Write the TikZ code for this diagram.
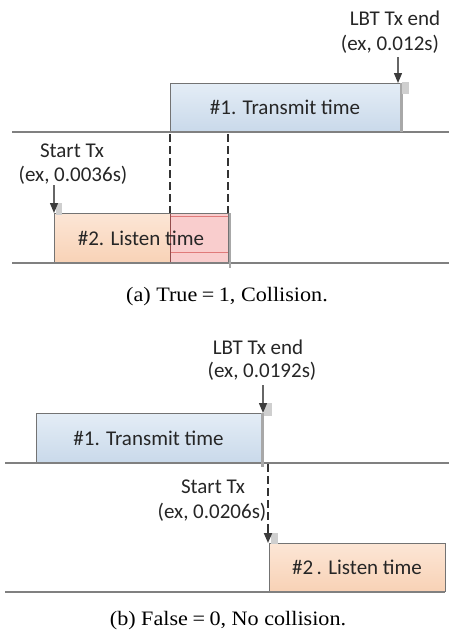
\documentclass[tikz,border=0pt]{standalone}
\usepackage{fontspec}
\setmainfont{Liberation Serif}
\newfontfamily\labfont{Carlito}
\newfontfamily\capfont[FakeStretch=1.08]{Liberation Serif}
\usetikzlibrary{arrows.meta}
\definecolor{txtop}{HTML}{E4EDF6}
\definecolor{txbot}{HTML}{C9D9EA}
\definecolor{lstop}{HTML}{FCE6D6}
\definecolor{lsbot}{HTML}{F8D2B6}
\definecolor{pinkfill}{HTML}{F9CDCD}
\definecolor{pinkline}{HTML}{E07A7A}
\definecolor{baseline}{HTML}{808080}
\definecolor{edgegray}{HTML}{A8A8A8}
\definecolor{shadegray}{HTML}{CFCFCF}
\definecolor{tipgray}{HTML}{3C3C3C}
\begin{document}
\begin{tikzpicture}[x=1pt,y=-1pt,
  lab/.style={font=\labfont\fontsize{21}{23}\selectfont, inner sep=0pt, text=black!85},
  captext/.style={font=\capfont\fontsize{20.5}{22}\selectfont, inner sep=0pt},
  txbox/.style={draw=black!55, line width=0.7pt, top color=txtop, bottom color=txbot,
    anchor=north west, inner sep=0pt, outer sep=0pt},
  lsbox/.style={draw=black!55, line width=0.7pt, top color=lstop, bottom color=lsbot,
    anchor=north west, inner sep=0pt, outer sep=0pt},
  timeline/.style={draw=baseline, line width=1.6pt},
  edgebar/.style={draw=edgegray, line width=2.4pt},
  shade/.style={fill=shadegray, draw=none, inner sep=0pt, outer sep=0pt, anchor=north west},
  marker/.style={draw=gray!80!black, line width=1.3pt,
    -{Triangle[length=10pt,width=8pt,color=tipgray]}},
  dashline/.style={draw=black!80, line width=1.8pt, dash pattern=on 8pt off 4pt}
]
\useasboundingbox (0,0) rectangle (452,637);

% ================= panel (a) =================
\node[txbox, minimum width=230pt, minimum height=49pt] (tx1) at (170,83) {};
\node[lab] (tx1t) at (tx1.center) {\#1. Transmit time};
\node[lsbox, minimum width=174pt, minimum height=50pt] (ls1) at (54,213) {};
\node[fill=pinkfill, draw=none, anchor=north west, inner sep=0pt, outer sep=0pt,
  minimum width=58pt, minimum height=50pt] (ov1) at (170,213) {};
\draw[pinkline, line width=0.8pt] (ov1.north west) ++(0,3.5) -- ++(58,0);
\draw[pinkline, line width=0.8pt] (ov1.south west) ++(0,-11) -- ++(58,0);
\draw[black!60!red!70, line width=0.8pt] (ov1.north west) -- (ov1.south west);
\draw[black!55, line width=0.7pt] (ls1.north west) rectangle (ls1.south east);
\node[lab] (ls1t) at (141,238) {\#2. Listen time};

\coordinate (l1a) at (12,132); \coordinate (l1b) at (449,132);
\coordinate (l2a) at (12,263); \coordinate (l2b) at (449,263);
\draw[timeline] (l1a) -- (l1b);
\draw[timeline] (l2a) -- (l2b);

% right edge of transmit box
\draw[edgebar] ([xshift=1.5pt]tx1.north east) -- ([xshift=1.5pt]tx1.south east);
\node[shade, minimum width=7pt, minimum height=12pt] (sh1) at (402,82) {};
% right edge of overlap
\draw[edgebar] (230,213) -- (230,268);

% dashed lines
\coordinate (d1a) at (170,134); \coordinate (d1b) at (170,213);
\coordinate (d2a) at (228,134); \coordinate (d2b) at (228,213);
\draw[dashline] (d1a) -- (d1b);
\draw[dashline] (d2a) -- (d2b);

% LBT Tx end label (a)
\node[lab] (lbt1) at (395,18) {LBT Tx end};
\node[lab] (lbt1v) at (390,44) {(ex, 0.012s)};
\coordinate (m1s) at (398,57); \coordinate (m1e) at (398,83);
\draw[marker] (m1s) -- (m1e);

% Start Tx label (a)
\node[lab] (st1) at (72,151) {Start Tx};
\node[lab] (st1v) at (73,175) {(ex, 0.0036s)};
\node[shade, minimum width=6pt, minimum height=12pt] (sh2) at (56,203) {};
\coordinate (m2s) at (54,185); \coordinate (m2e) at (54,213);
\draw[marker] (m2s) -- (m2e);

\node[captext] (capa) at (227,297) {(a) True\:=\:1, Collision.};

% ================= panel (b) =================
\node[txbox, minimum width=225pt, minimum height=50pt] (tx2) at (36,413) {};
\node[lab] (tx2t) at (tx2.center) {\#1. Transmit time};
\node[lsbox, minimum width=176pt, minimum height=48pt] (ls2) at (269,543) {};
\node[lab] (ls2t) at (ls2.center) {\#2\,. Listen time};

\coordinate (l3a) at (5,463); \coordinate (l3b) at (449,463);
\coordinate (l4a) at (5,592); \coordinate (l4b) at (445,592);
\draw[timeline] (l3a) -- (l3b);
\draw[timeline] (l4a) -- (l4b);

\draw[edgebar] ([xshift=1.5pt]tx2.north east) -- ([xshift=1.5pt,yshift=-4pt]tx2.south east);
\node[shade, minimum width=8pt, minimum height=13pt] (sh3) at (264,403) {};

% LBT Tx end label (b)
\node[lab] (lbt2) at (258,347) {LBT Tx end};
\node[lab] (lbt2v) at (262,371) {(ex, 0.0192s)};
\coordinate (m3s) at (263,385); \coordinate (m3e) at (263,413);
\draw[marker] (m3s) -- (m3e);

% Start Tx label (b)
\node[lab] (st2) at (213,487) {Start Tx};
\node[lab] (st2v) at (212,512) {(ex, 0.0206s)};
\node[shade, minimum width=7pt, minimum height=11pt] (sh4) at (271,533) {};
\coordinate (d3a) at (268,464); \coordinate (d3b) at (268,543);
\draw[dashline] (d3a) -- ([yshift=11pt]d3b);
\draw[marker, draw=black!80, line width=1.8pt] ([yshift=12pt]d3b) -- (d3b);

\node[captext] (capb) at (228,621) {(b) False\:=\:0, No collision.};
\end{tikzpicture}
\end{document}
